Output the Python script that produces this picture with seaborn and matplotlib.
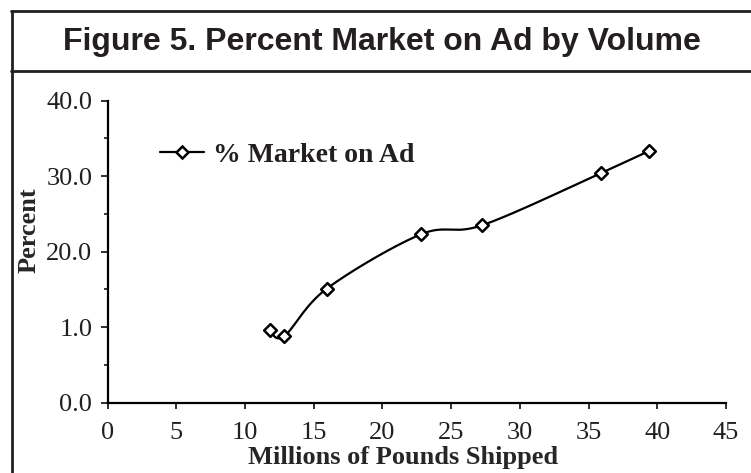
"""Recreate Figure 5: percent market on ad by shipped volume."""

import matplotlib

matplotlib.use("Agg")

import matplotlib.pyplot as plt
import numpy as np
import pandas as pd
import seaborn as sns
from matplotlib import font_manager
from matplotlib.lines import Line2D

# data
volume = [11.8, 12.85, 15.95, 22.8, 27.25, 35.9, 39.4]
pct_on_ad = [9.6, 8.8, 15.1, 22.3, 23.5, 30.4, 33.35]
series_name = "% Market on Ad"
x_ticks = [0, 5, 10, 15, 20, 25, 30, 35, 40, 45]
y_ticks = [0, 10, 20, 30, 40]
y_minor = [5, 15, 25, 35]
y_tick_labels = ["0.0", "1.0", "20.0", "30.0", "40.0"]

W, H = 751, 473
AX_BOX = (107.5, 100.7, 726.0, 402.7)  # left, top, right, bottom in px


def _pick(families):
    names = {f.name for f in font_manager.fontManager.ttflist}
    return [f for f in families if f in names] or ["DejaVu Sans"]


def _smooth(x, y, xlim, ylim, size, steps=40):
    """Catmull-Rom style bezier through the points, done in pixel-like space."""
    sx = size[0] / (xlim[1] - xlim[0])
    sy = size[1] / (ylim[1] - ylim[0])
    pts = np.column_stack([np.asarray(x) * sx, np.asarray(y) * sy])
    padded = np.vstack([pts[0], pts, pts[-1]])
    t = np.linspace(0, 1, steps)[:, None]
    segs = []
    for i in range(1, len(padded) - 2):
        p0, p1, p2, p3 = padded[i - 1], padded[i], padded[i + 1], padded[i + 2]
        c1 = p1 + (p2 - p0) / 6
        c2 = p2 - (p3 - p1) / 6
        segs.append((1 - t) ** 3 * p1 + 3 * (1 - t) ** 2 * t * c1 + 3 * (1 - t) * t ** 2 * c2 + t ** 3 * p2)
    curve = np.vstack(segs)
    return curve[:, 0] / sx, curve[:, 1] / sy


def main() -> None:
    sns.set_style("ticks")
    serif = _pick(["Liberation Serif", "DejaVu Serif"])
    narrow = _pick(["Liberation Sans Narrow", "Liberation Sans", "DejaVu Sans"])
    plt.rcParams["font.family"] = serif
    plt.rcParams["text.color"] = "#231f20"

    fig = plt.figure(figsize=(W / 100, H / 100), dpi=100)
    l, t, r, b = AX_BOX
    ax = fig.add_axes([l / W, 1 - b / H, (r - l) / W, (b - t) / H])

    xlim, ylim = (0, 45), (0, 40)
    cx, cy = _smooth(volume, pct_on_ad, xlim, ylim, (r - l, b - t))
    curve = pd.DataFrame({"volume": cx, "pct": cy})
    points = pd.DataFrame({"volume": volume, "pct": pct_on_ad})

    sns.lineplot(data=curve, x="volume", y="pct", ax=ax, color="black", linewidth=1.6,
                 sort=False, estimator=None)
    sns.scatterplot(data=points, x="volume", y="pct", ax=ax, marker="D", s=42,
                    facecolor="white", edgecolor="black", linewidth=1.8, zorder=3)

    ax.set_xlim(*xlim)
    ax.set_ylim(*ylim)
    ax.set_xticks(x_ticks)
    ax.set_xticklabels([str(v) for v in x_ticks], fontsize=19)
    ax.set_yticks(y_ticks)
    ax.set_yticklabels(y_tick_labels, fontsize=19)
    ax.set_yticks(y_minor, minor=True)
    ax.tick_params(axis="x", direction="out", length=4, width=1.3, pad=10, colors="#231f20")
    ax.tick_params(axis="y", which="major", direction="out", length=5, width=1.3, pad=6, colors="#231f20")
    ax.tick_params(axis="y", which="minor", direction="out", length=3, width=1.3)
    for side in ("top", "right"):
        ax.spines[side].set_visible(False)
    for side in ("left", "bottom"):
        ax.spines[side].set_linewidth(1.6)
        ax.spines[side].set_color("black")

    ax.set_xlabel("Millions of Pounds Shipped", fontsize=19, fontweight="bold")
    ax.set_ylabel("Percent", fontsize=19, fontweight="bold")
    ax.xaxis.set_label_coords((403 - l) / (r - l), (b - 446) / (b - t))
    ax.yaxis.set_label_coords((41 - l) / (r - l), (b - 230) / (b - t))

    handle = Line2D([], [], color="black", linewidth=1.6, marker="D", markersize=6,
                    markerfacecolor="white", markeredgecolor="black", markeredgewidth=1.8)
    ax.legend(handles=[handle], labels=[series_name], loc="center left",
              bbox_to_anchor=((160 - l) / (r - l), (b - 155) / (b - t)),
              frameon=False, borderpad=0, borderaxespad=0, handlelength=1.6,
              handletextpad=0.3, prop={"family": serif, "size": 20, "weight": "bold"})

    # title box frame
    edge = "#231f20"
    fig.add_artist(Line2D([12 / W, 12 / W], [0, 1 - 11.5 / H], color=edge, lw=2, transform=fig.transFigure))
    fig.add_artist(Line2D([11 / W, 1], [1 - 11.5 / H] * 2, color=edge, lw=2, transform=fig.transFigure))
    fig.add_artist(Line2D([11 / W, 1], [1 - 70.7 / H] * 2, color=edge, lw=2, transform=fig.transFigure))
    fig.text(382 / W, 1 - 42 / H, "Figure 5. Percent Market on Ad by Volume", ha="center", va="center",
             fontsize=23, fontweight="bold", family=narrow, color=edge)

    fig.savefig("out.png", dpi=100, facecolor="white")
    plt.close(fig)


if __name__ == "__main__":
    main()
